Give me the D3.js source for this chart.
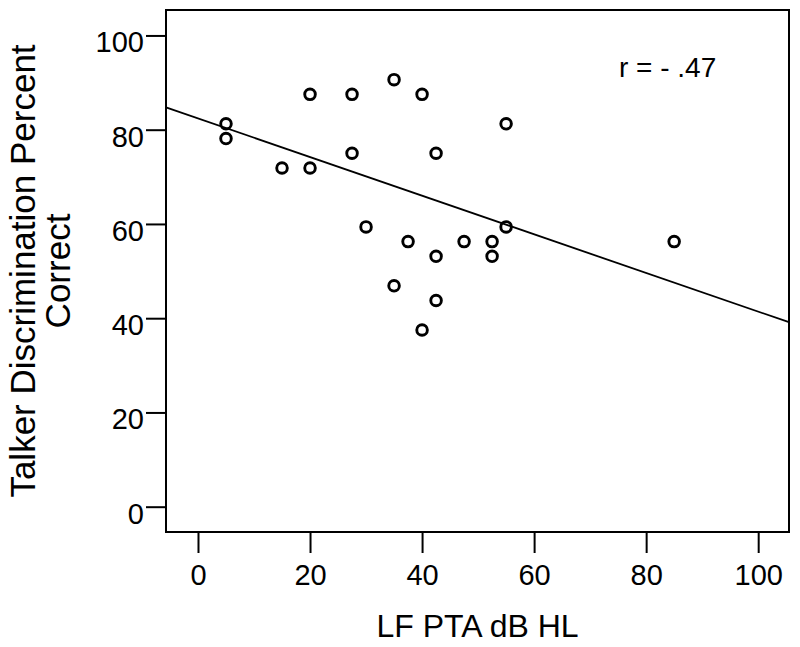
<!DOCTYPE html>
<html>
<head>
<meta charset="utf-8">
<script src="https://cdn.jsdelivr.net/npm/d3@7"></script>
<style>
  html, body { margin: 0; padding: 0; background: #fff; }
  svg text { font-family: "Liberation Sans", Arial, Helvetica, sans-serif; fill: #000; }
</style>
</head>
<body>
<svg id="chart" width="800" height="647"></svg>
<script>
// Data: LF PTA (dB HL) vs talker discrimination percent correct
const lfPta = [5, 5, 15, 20, 20, 27.5, 27.5, 30, 35, 35, 37.5, 40, 40, 42.5, 42.5, 42.5, 47.5, 52.5, 52.5, 55, 55, 85];
const percentCorrect = [81.25, 78.125, 71.875, 87.5, 71.875, 87.5, 75, 59.375, 90.625, 46.875, 56.25, 87.5, 37.5, 75, 53.125, 43.75, 56.25, 56.25, 53.125, 81.25, 59.375, 56.25];
const xTicks = [0, 20, 40, 60, 80, 100];
const yTicks = [0, 20, 40, 60, 80, 100];
const fitIntercept = 82.4;
const fitSlope = -0.41;
const xTitle = "LF PTA dB HL";
const yTitleLines = ["Talker Discrimination Percent", "Correct"];
const annotation = "r = - .47";

const svg = d3.select("#chart");
const L = 166, T = 10, R = 789, B = 532;

const x = d3.scaleLinear().domain([-5.71, 105.5]).range([L, R]);
const y = d3.scaleLinear().domain([-5.37, 105.4]).range([B, T]);

// Frame
svg.append("rect")
  .attr("x", L).attr("y", T).attr("width", R - L).attr("height", B - T)
  .attr("fill", "none").attr("stroke", "#000").attr("stroke-width", 2);

// X axis
const xAxis = svg.append("g").attr("transform", `translate(0,${B})`)
  .call(d3.axisBottom(x).tickValues(xTicks).tickSize(21).tickPadding(11).tickFormat(d3.format("d")));
xAxis.select(".domain").remove();
xAxis.selectAll(".tick line").attr("stroke", "#000").attr("stroke-width", 2);
xAxis.selectAll(".tick text").attr("font-size", 29).attr("font-family", "Liberation Sans, Arial, sans-serif").attr("fill", "#000");

// Y axis
const yAxis = svg.append("g").attr("transform", `translate(${L},0)`)
  .call(d3.axisLeft(y).tickValues(yTicks).tickSize(20).tickPadding(2).tickFormat(d3.format("d")));
yAxis.select(".domain").remove();
yAxis.selectAll(".tick line").attr("stroke", "#000").attr("stroke-width", 2);
yAxis.selectAll(".tick text").attr("font-size", 29).attr("dy", "0.57em")
  .attr("font-family", "Liberation Sans, Arial, sans-serif").attr("fill", "#000");

// Regression line (clipped to plot area)
const x0 = x.domain()[0], x1 = x.domain()[1];
svg.append("line")
  .attr("x1", x(x0)).attr("y1", y(fitIntercept + fitSlope * x0))
  .attr("x2", x(x1)).attr("y2", y(fitIntercept + fitSlope * x1))
  .attr("stroke", "#000").attr("stroke-width", 1.8);

// Points
svg.append("g").selectAll("circle")
  .data(lfPta.map((v, i) => [v, percentCorrect[i]]))
  .join("circle")
  .attr("cx", d => x(d[0])).attr("cy", d => y(d[1]))
  .attr("r", 5.3)
  .attr("fill", "none").attr("stroke", "#000").attr("stroke-width", 2.9);

// Annotation
svg.append("text").attr("x", 619).attr("y", 77).attr("font-size", 28).text(annotation);

// X title
svg.append("text").attr("x", (L + R) / 2).attr("y", 637)
  .attr("text-anchor", "middle").attr("font-size", 32).text(xTitle);

// Y title
const yt = svg.append("text")
  .attr("transform", `translate(35,${(T + B) / 2}) rotate(-90)`)
  .attr("text-anchor", "middle").attr("font-size", 35);
yTitleLines.forEach((line, i) => {
  yt.append("tspan").attr("x", 0).attr("dy", i === 0 ? 0 : 35).text(line);
});
</script>
</body>
</html>
